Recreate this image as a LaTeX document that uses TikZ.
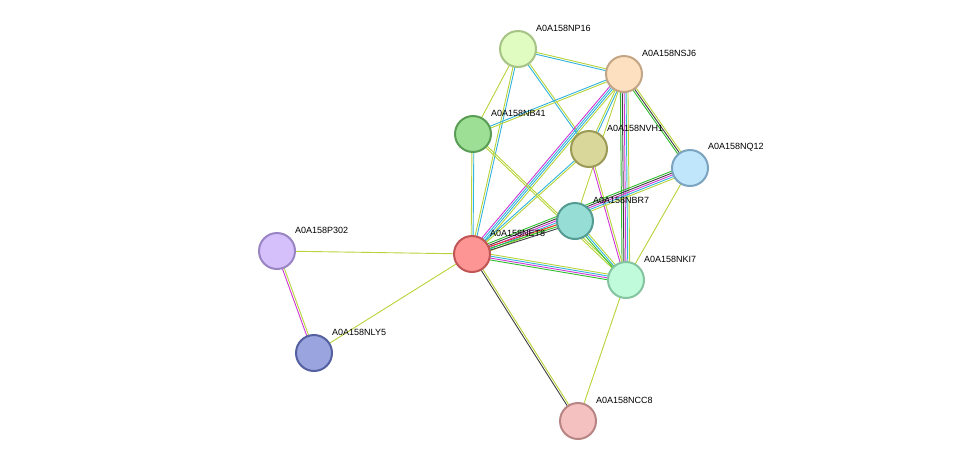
\documentclass[tikz,border=0pt]{standalone}
\usepackage{fontspec}
\setmainfont{Liberation Sans}
\usetikzlibrary{calc}
\definecolor{ey}{HTML}{B8D43A}
\definecolor{eb}{HTML}{30B4DC}
\definecolor{em}{HTML}{D035D8}
\definecolor{eg}{HTML}{2EBE2E}
\definecolor{ek}{HTML}{404040}
\definecolor{er}{HTML}{F03030}
\newcommand{\medge}[3]{%
  \foreach \c [count=\i] in {#3} {\xdef\nn{\i}}%
  \foreach \c [count=\i] in {#3} {%
    \pgfmathsetmacro{\off}{(\i-(\nn+1)/2)*1.9}%
    \draw[\c,line width=0.9pt] ($(#1)!\off pt!90:(#2)$) -- ($(#2)!\off pt!-90:(#1)$);%
  }}
\begin{document}
\begin{tikzpicture}[x=1pt,y=-1pt,
  prot/.style={circle,minimum size=36pt,inner sep=0pt,line width=2pt},
  lab/.style={anchor=west,font=\fontsize{9}{10}\selectfont,inner sep=0pt}]
\useasboundingbox[fill=white] (0,0) rectangle (975,467);
\coordinate (NP16) at (518,49);
\coordinate (NSJ6) at (624,74);
\coordinate (NB41) at (473,134);
\coordinate (NVH1) at (589,149);
\coordinate (NQ12) at (690,168);
\coordinate (NBR7) at (575,221);
\coordinate (NET8) at (472,254);
\coordinate (NKI7) at (626,280);
\coordinate (P302) at (277,251);
\coordinate (NLY5) at (314,353);
\coordinate (NCC8) at (578,421);
\medge{NP16}{NSJ6}{eb,ey}
\medge{NP16}{NB41}{ey}
\medge{NP16}{NET8}{ey,eb}
\medge{NP16}{NVH1}{eb,ey}
\medge{NSJ6}{NB41}{eb,ey}
\medge{NSJ6}{NET8}{em,eb,eb,ey}
\medge{NSJ6}{NVH1}{ey,eb}
\medge{NSJ6}{NKI7}{eg,ek,em,eb,ey}
\medge{NSJ6}{NQ12}{eg,ek,ey}
\medge{NSJ6}{NBR7}{ey}
\medge{NVH1}{NET8}{eb,ey}
\medge{NB41}{NET8}{ey,eb}
\medge{NB41}{NKI7}{ey,ey}
\medge{NVH1}{NKI7}{em,ey}
\medge{NQ12}{NET8}{eg,ek,em,eb,ey}
\medge{NQ12}{NKI7}{ey}
\medge{NBR7}{NET8}{er,eg,ek}
\medge{NBR7}{NKI7}{eg,eb,ey}
\medge{NET8}{NKI7}{eg,em,eb,ey}
\medge{NET8}{P302}{ey}
\medge{NET8}{NLY5}{ey}
\medge{NET8}{NCC8}{ek,ey}
\medge{NKI7}{NCC8}{ey}
\medge{P302}{NLY5}{em,ey}
\foreach \n/\t in {NP16/A0A158NP16,NSJ6/A0A158NSJ6,NB41/A0A158NB41,NVH1/A0A158NVH1,NQ12/A0A158NQ12,NBR7/A0A158NBR7,NET8/A0A158NET8,NKI7/A0A158NKI7,P302/A0A158P302,NLY5/A0A158NLY5,NCC8/A0A158NCC8}
  \node[lab] (l\n) at ($(\n)+(18,-21)$) {\t};
\node[prot,fill={rgb,255:red,224;green,252;blue,192},draw={rgb,255:red,165;green,196;blue,133}] (nNP16) at (NP16) {};
\node[prot,fill={rgb,255:red,253;green,224;blue,192},draw={rgb,255:red,196;green,165;blue,133}] (nNSJ6) at (NSJ6) {};
\node[prot,fill={rgb,255:red,157;green,223;blue,149},draw={rgb,255:red,90;green,157;blue,85}] (nNB41) at (NB41) {};
\node[prot,fill={rgb,255:red,217;green,216;blue,154},draw={rgb,255:red,155;green,154;blue,86}] (nNVH1) at (NVH1) {};
\node[prot,fill={rgb,255:red,192;green,230;blue,252},draw={rgb,255:red,122;green,164;blue,192}] (nNQ12) at (NQ12) {};
\node[prot,fill={rgb,255:red,254;green,149;blue,149},draw={rgb,255:red,192;green,85;blue,85}] (nNET8) at (NET8) {};
\node[prot,fill={rgb,255:red,149;green,221;blue,213},draw={rgb,255:red,83;green,155;blue,147}] (nNBR7) at (NBR7) {};
\node[prot,fill={rgb,255:red,192;green,252;blue,220},draw={rgb,255:red,133;green,196;blue,160}] (nNKI7) at (NKI7) {};
\node[prot,fill={rgb,255:red,213;green,192;blue,252},draw={rgb,255:red,154;green,133;blue,196}] (nP302) at (P302) {};
\node[prot,fill={rgb,255:red,154;green,165;blue,224},draw={rgb,255:red,85;green,96;blue,160}] (nNLY5) at (NLY5) {};
\node[prot,fill={rgb,255:red,245;green,192;blue,192},draw={rgb,255:red,184;green,133;blue,133}] (nNCC8) at (NCC8) {};
\end{tikzpicture}
\end{document}
